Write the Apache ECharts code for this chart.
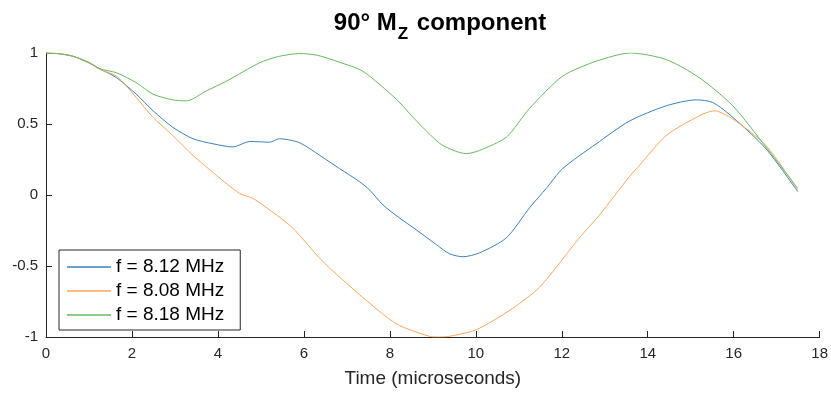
<!DOCTYPE html>
<html>
<head>
<meta charset="utf-8">
<script src="https://cdn.jsdelivr.net/npm/echarts@6/dist/echarts.min.js"></script>
<style>html,body{margin:0;padding:0;background:#fff}#c{width:831px;height:393px}</style>
</head>
<body>
<div id="c"></div>
<script>
const seriesNames = ['f = 8.12 MHz', 'f = 8.08 MHz', 'f = 8.18 MHz'];
const xTicks = [0, 2, 4, 6, 8, 10, 12, 14, 16, 18];
const yTicks = [-1, -0.5, 0, 0.5, 1];

const blueX = [0,0.3,0.63,1.0,1.25,1.64,2.1,2.49,2.95,3.42,3.88,4.35,4.74,5.2,5.43,5.9,6.37,6.83,7.3,7.53,7.84,8.23,8.61,9.08,9.39,9.7,10.09,10.71,11.25,11.64,12.02,12.8,13.57,14.43,15.13,15.51,15.98,16.75,17.49];
const blueY = [1,0.995,0.977,0.93,0.889,0.826,0.71,0.593,0.477,0.396,0.361,0.338,0.377,0.372,0.396,0.368,0.279,0.186,0.093,0.035,-0.07,-0.163,-0.244,-0.349,-0.414,-0.435,-0.407,-0.302,-0.09,0.047,0.186,0.36,0.52,0.628,0.67,0.652,0.547,0.326,0.024];

const orangeX = [0,0.3,0.63,1.0,1.25,1.64,2.1,2.49,2.95,3.42,3.96,4.5,4.81,5.36,5.74,6.29,6.6,7.37,8.15,8.92,9.15,9.39,10.01,10.78,11.4,11.71,12.41,12.88,13.57,13.81,14.43,15.2,15.55,15.98,16.75,17.49];
const orangeY = [1,0.995,0.977,0.93,0.885,0.837,0.687,0.547,0.419,0.279,0.14,0.012,-0.023,-0.14,-0.232,-0.419,-0.515,-0.721,-0.907,-0.995,-1.0,-0.995,-0.949,-0.814,-0.674,-0.57,-0.302,-0.14,0.128,0.21,0.419,0.558,0.593,0.535,0.349,0.035];

const greenX = [0,0.3,0.63,1.0,1.25,1.64,2.1,2.49,2.95,3.27,3.73,4.2,4.97,5.4,5.9,6.3,6.83,7.37,8.15,8.53,8.92,9.23,9.78,10.09,10.71,11.25,12.02,12.8,13.6,14.43,15.2,15.98,16.75,17.49];
const greenY = [1,0.995,0.977,0.935,0.889,0.861,0.791,0.71,0.67,0.663,0.733,0.802,0.931,0.975,0.996,0.985,0.935,0.872,0.675,0.55,0.43,0.349,0.291,0.314,0.407,0.61,0.837,0.942,1.0,0.954,0.826,0.628,0.338,0.047];

const colors = ['#3a82be', '#ffa55c', '#66bb5f'];
const pairs = (xs, ys) => xs.map((x, i) => [x, ys[i]]);
const allData = [pairs(blueX, blueY), pairs(orangeX, orangeY), pairs(greenX, greenY)];

const chart = echarts.init(document.getElementById('c'), null, {renderer: 'canvas'});
const font = 'Liberation Sans, Arial, Helvetica, sans-serif';
chart.setOption({
  animation: false,
  backgroundColor: '#fff',
  title: {
    text: '{a|90° M}{s|Z}{a| component}',
    left: 435, top: 2, textAlign: 'center',
    textStyle: {
      rich: {
        a: {fontFamily: font, fontSize: 24, fontWeight: 'bold', color: '#000', lineHeight: 28, verticalAlign: 'bottom'},
        s: {fontFamily: font, fontSize: 17, fontWeight: 'bold', color: '#000', lineHeight: 28, verticalAlign: 'bottom', padding: [0, 2, -8, 1]}
      }
    }
  },
  grid: {left: 46, right: 11, top: 53, bottom: 53, containLabel: false},
  legend: {
    orient: 'vertical', left: 59, top: 250,
    data: seriesNames.map(n => ({name: n, icon: 'rect'})),
    itemWidth: 44, itemHeight: 1.3, itemGap: 4, itemTextGap: 8,
    padding: [7, 16, 5, 8],
    borderColor: '#262626', borderWidth: 1, backgroundColor: '#fff',
    textStyle: {fontFamily: font, fontSize: 19, color: '#000', lineHeight: 20}
  },
  xAxis: {
    type: 'value', min: 0, max: 18, interval: 2,
    name: 'Time (microseconds)', nameLocation: 'middle', nameGap: 32,
    nameTextStyle: {fontFamily: font, fontSize: 19, color: '#262626'},
    axisLine: {onZero: false, lineStyle: {color: '#262626', width: 1}},
    axisTick: {inside: true, length: 6, lineStyle: {color: '#262626'}},
    axisLabel: {fontFamily: font, fontSize: 15, color: '#262626', margin: 9,
      formatter: v => xTicks.includes(v) ? String(v) : ''},
    splitLine: {show: false}
  },
  yAxis: {
    type: 'value', min: -1, max: 1, interval: 0.5,
    axisLine: {show: true, onZero: false, lineStyle: {color: '#262626', width: 1}},
    axisTick: {show: true, inside: true, length: 6, lineStyle: {color: '#262626'}},
    axisLabel: {fontFamily: font, fontSize: 15, color: '#262626', margin: 8,
      formatter: v => yTicks.includes(v) ? String(v) : ''},
    splitLine: {show: false}
  },
  series: seriesNames.map((n, i) => ({
    name: n, type: 'line', data: allData[i], showSymbol: false, symbol: 'none',
    smooth: 0.25, lineStyle: {color: colors[i], width: 1}, itemStyle: {color: colors[i]}, z: 2 + i
  }))
});
</script>
</body>
</html>
